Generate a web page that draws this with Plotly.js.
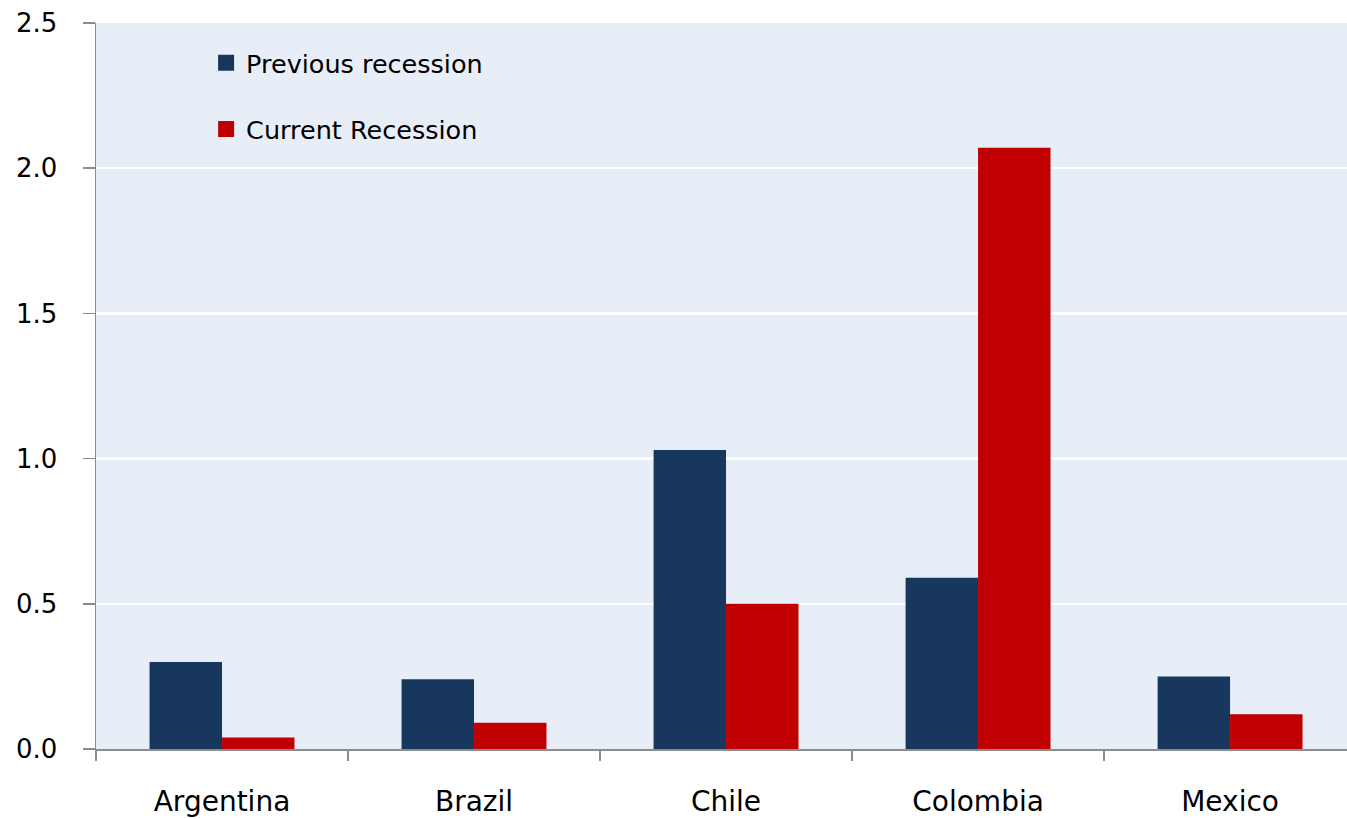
<!DOCTYPE html>
<html>
<head>
<meta charset="utf-8">
<script src="https://cdn.plot.ly/plotly-3.0.1.min.js"></script>
<style>
  html, body { margin: 0; padding: 0; background: #ffffff; }
  #chart { width: 1347px; height: 819px; }
</style>
</head>
<body>
<div id="chart"></div>
<script>
// Countries on the category axis
const countries = ["Argentina", "Brazil", "Chile", "Colombia", "Mexico"];
// Values for each recession episode
const previousRecession = [0.30, 0.24, 1.03, 0.59, 0.25];
const currentRecession = [0.04, 0.09, 0.50, 2.07, 0.12];
// Value axis ticks
const yTicks = [0.0, 0.5, 1.0, 1.5, 2.0, 2.5];
const seriesNames = ["Previous recession", "Current Recession"];

const NAVY = "#18375e";
const RED = "#c00000";
const FONT = "'DejaVu Sans', 'Open Sans', sans-serif";

const traces = [
  {
    type: "bar", x: countries, y: previousRecession, name: seriesNames[0],
    marker: { color: NAVY, line: { width: 0 } }, showlegend: false, hoverinfo: "x+y"
  },
  {
    type: "bar", x: countries, y: currentRecession, name: seriesNames[1],
    marker: { color: RED, line: { width: 0 } }, showlegend: false, hoverinfo: "x+y"
  },
  // Legend entries with larger square swatches
  {
    type: "scatter", mode: "markers", x: [null], y: [null], name: seriesNames[0],
    marker: { symbol: "square", size: 18, color: NAVY }, legendgroup: "a"
  },
  {
    type: "scatter", mode: "markers", x: [null], y: [null], name: seriesNames[1],
    marker: { symbol: "square", size: 18, color: RED }, legendgroup: "b"
  }
];

const layout = {
  width: 1347, height: 819,
  margin: { l: 96, r: 0, t: 23, b: 70 },
  paper_bgcolor: "#ffffff",
  plot_bgcolor: "#e8eef7",
  font: { family: FONT, color: "#000000" },
  barmode: "group",
  bargap: 0.425,
  bargroupgap: 0,
  showlegend: true,
  legend: {
    x: 0.088, y: 0.977, xanchor: "left", yanchor: "top",
    bgcolor: "rgba(0,0,0,0)",
    font: { size: 25.5, family: FONT, color: "#000000" },
    traceorder: "grouped",
    tracegroupgap: 30,
    itemsizing: "trace"
  },
  xaxis: {
    type: "category",
    categoryorder: "array", categoryarray: countries,
    // the last category runs slightly past the right edge
    range: [-0.5, 4.464],
    showline: true, linecolor: "#8c8c8c", linewidth: 1.5,
    ticks: "outside", tickson: "boundaries", ticklen: 10, tickwidth: 1.5, tickcolor: "#8c8c8c",
    tickfont: { size: 28, family: FONT, color: "#000000" },
    ticklabelstandoff: 27,
    showgrid: false, zeroline: false,
    fixedrange: true
  },
  yaxis: {
    range: [0, 2.5],
    tickvals: yTicks,
    tickformat: ".1f",
    showline: true, linecolor: "#8c8c8c", linewidth: 1.5,
    ticks: "outside", ticklen: 12, tickwidth: 1.5, tickcolor: "#8c8c8c",
    tickfont: { size: 26, family: FONT, color: "#000000" },
    ticklabelstandoff: 20,
    showgrid: true, gridcolor: "#ffffff", gridwidth: 2.5,
    zeroline: false,
    fixedrange: true
  }
};

Plotly.newPlot("chart", traces, layout, { displayModeBar: false, staticPlot: true });
</script>
</body>
</html>
